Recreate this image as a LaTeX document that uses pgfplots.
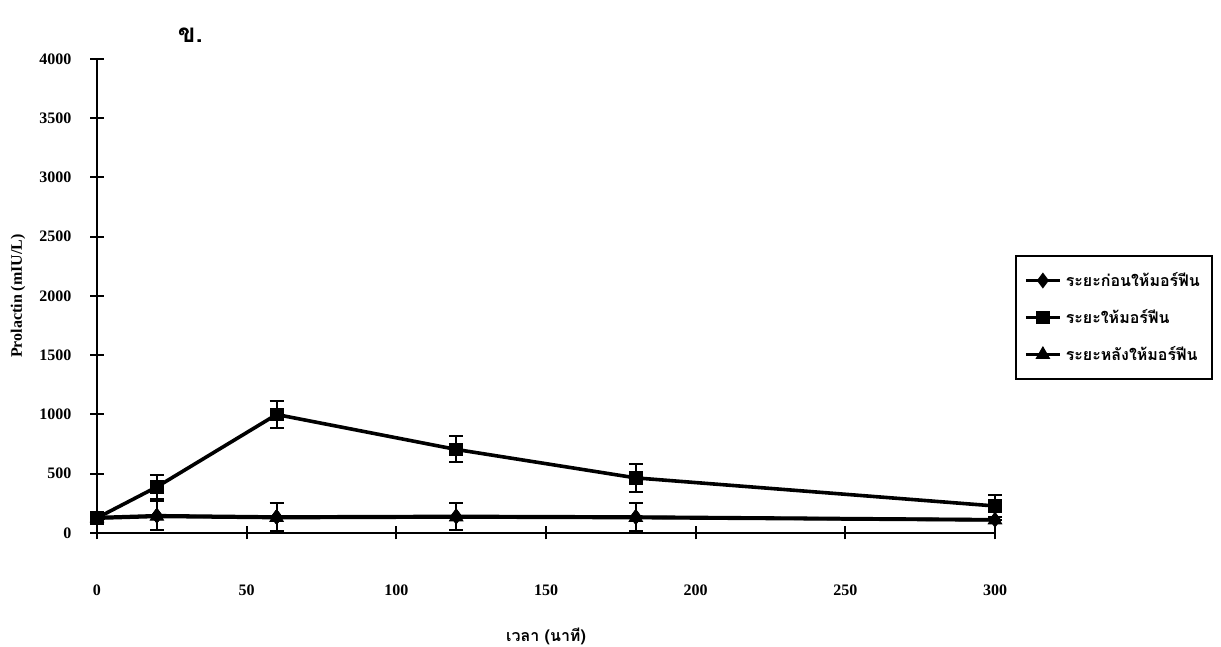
\documentclass[border=0pt]{standalone}
\usepackage{pgfplots}
\pgfplotsset{compat=1.18}
\usepackage{pgfplotstable}
\usepackage{fontspec}
\setmainfont{Liberation Serif}
\newfontfamily\thaifont[Script=Thai]{Loma}

\pgfplotstableread{
x y e
0 130 0
20 146 120
60 135 120
120 140 115
180 135 118
300 112 0
}\before
\pgfplotstableread{
x y e
0 127 0
20 389 100
60 1000 110
120 705 110
180 465 115
300 228 95
}\during
\pgfplotstableread{
x y e
0 125 0
20 140 0
60 130 0
120 135 0
180 130 0
300 110 0
}\after

\begin{document}
\begin{tikzpicture}
\path[use as bounding box] (0,0) rectangle (610.5pt,323.5pt);
\begin{axis}[
  at={(48.5pt,57pt)}, anchor=south west,
  scale only axis, width=449pt, height=237pt,
  xmin=0, xmax=300, ymin=0, ymax=4000,
  axis lines*=left,
  xtick={0,50,...,300}, ytick={0,500,...,4000},
  tick align=center, major tick length=6.5pt,
  axis line style={line width=1pt},
  tick style={line width=1pt, black},
  /pgf/number format/assume math mode=true,
  /pgf/number format/1000 sep={},
  scaled ticks=false,
  ticklabel style={font=\bfseries\fontsize{8}{9}\selectfont},
  xticklabel style={yshift=-19pt},
  yticklabel style={xshift=-6pt},
  xlabel={\thaifont\bfseries เวลา (นาที)},
  xlabel style={at={(rel axis cs:0.5,-0.219)}, anchor=center, font=\fontsize{8}{9}\selectfont},
  ylabel={\bfseries Prolactin (mIU/L)},
  ylabel style={at={(rel axis cs:-0.088,0.5)}, anchor=center, font=\fontsize{8}{9}\selectfont},
  clip=false,
  legend style={at={(1.0223,0.5865)}, anchor=north west, draw=black, line width=1pt,
    font=\thaifont\bfseries\fontsize{8}{10}\selectfont,
    inner xsep=4pt, inner ysep=6pt, row sep=6pt},
  legend cell align=left,
  every axis plot/.append style={black, line width=1.8pt},
  error bars/error bar style={line width=1pt},
  error bars/error mark options={rotate=90, mark size=3.5pt, line width=1pt},
]
\addplot[mark=diamond*, mark size=3.6pt, mark options={solid, fill=black, line width=0.5pt},
  error bars/.cd, y dir=both, y explicit]
  table[x=x, y=y, y error=e] {\before};
\addplot[mark=square*, mark size=3.2pt, mark options={solid, fill=black, line width=0.5pt},
  error bars/.cd, y dir=both, y explicit]
  table[x=x, y=y, y error=e] {\during};
\addplot[mark=triangle*, mark size=3.8pt, mark options={solid, fill=black, line width=0.5pt}]
  table[x=x, y=y] {\after};
\addplot[forget plot, only marks, mark=diamond*, mark size=3.6pt, restrict x to domain=10:200,
  mark options={solid, fill=black, line width=0.5pt}]
  table[x=x, y=y] {\before};
\legend{ระยะก่อนให้มอร์ฟีน, ระยะให้มอร์ฟีน, ระยะหลังให้มอร์ฟีน}
\node[font=\thaifont\bfseries\fontsize{13}{14}\selectfont] at (rel axis cs:0.104,1.05) {ข.};
\end{axis}
\end{tikzpicture}
\end{document}
